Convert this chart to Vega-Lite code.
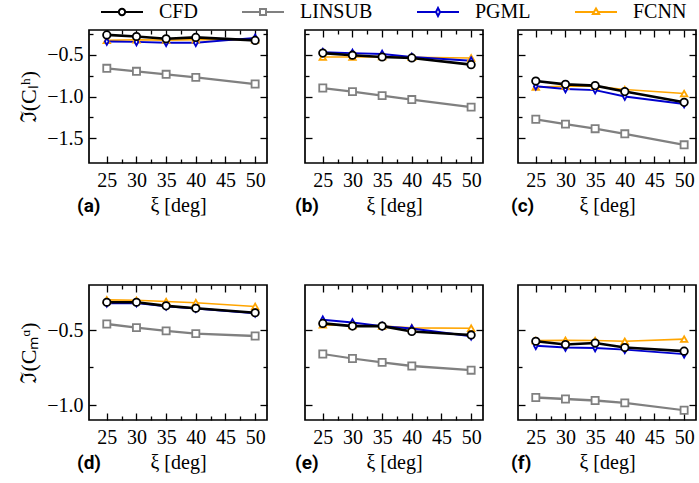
{
  "$schema": "https://vega.github.io/schema/vega-lite/v6.json",
  "padding": {"left": 16, "top": 0, "right": 0, "bottom": 0},
  "data": {"values": [
    {"p":"a","s":"LINSUB","x":25,"y":-0.661},{"p":"a","s":"LINSUB","x":30,"y":-0.697},{"p":"a","s":"LINSUB","x":35,"y":-0.733},{"p":"a","s":"LINSUB","x":40,"y":-0.770},{"p":"a","s":"LINSUB","x":50,"y":-0.850},
    {"p":"a","s":"FCNN","x":25,"y":-0.325},{"p":"a","s":"FCNN","x":30,"y":-0.318},{"p":"a","s":"FCNN","x":35,"y":-0.322},{"p":"a","s":"FCNN","x":40,"y":-0.318},{"p":"a","s":"FCNN","x":50,"y":-0.318},
    {"p":"a","s":"PGML","x":25,"y":-0.339},{"p":"a","s":"PGML","x":30,"y":-0.343},{"p":"a","s":"PGML","x":35,"y":-0.354},{"p":"a","s":"PGML","x":40,"y":-0.354},{"p":"a","s":"PGML","x":50,"y":-0.295},
    {"p":"a","s":"CFD","x":25,"y":-0.259},{"p":"a","s":"CFD","x":30,"y":-0.278},{"p":"a","s":"CFD","x":35,"y":-0.306},{"p":"a","s":"CFD","x":40,"y":-0.289},{"p":"a","s":"CFD","x":50,"y":-0.325},
    {"p":"b","s":"LINSUB","x":25,"y":-0.898},{"p":"b","s":"LINSUB","x":30,"y":-0.941},{"p":"b","s":"LINSUB","x":35,"y":-0.989},{"p":"b","s":"LINSUB","x":40,"y":-1.037},{"p":"b","s":"LINSUB","x":50,"y":-1.128},
    {"p":"b","s":"FCNN","x":25,"y":-0.525},{"p":"b","s":"FCNN","x":30,"y":-0.525},{"p":"b","s":"FCNN","x":35,"y":-0.520},{"p":"b","s":"FCNN","x":40,"y":-0.527},{"p":"b","s":"FCNN","x":50,"y":-0.536},
    {"p":"b","s":"PGML","x":25,"y":-0.467},{"p":"b","s":"PGML","x":30,"y":-0.478},{"p":"b","s":"PGML","x":35,"y":-0.489},{"p":"b","s":"PGML","x":40,"y":-0.525},{"p":"b","s":"PGML","x":50,"y":-0.569},
    {"p":"b","s":"CFD","x":25,"y":-0.478},{"p":"b","s":"CFD","x":30,"y":-0.503},{"p":"b","s":"CFD","x":35,"y":-0.525},{"p":"b","s":"CFD","x":40,"y":-0.536},{"p":"b","s":"CFD","x":50,"y":-0.617},
    {"p":"c","s":"LINSUB","x":25,"y":-1.274},{"p":"c","s":"LINSUB","x":30,"y":-1.332},{"p":"c","s":"LINSUB","x":35,"y":-1.387},{"p":"c","s":"LINSUB","x":40,"y":-1.449},{"p":"c","s":"LINSUB","x":50,"y":-1.581},
    {"p":"c","s":"FCNN","x":25,"y":-0.887},{"p":"c","s":"FCNN","x":30,"y":-0.876},{"p":"c","s":"FCNN","x":35,"y":-0.876},{"p":"c","s":"FCNN","x":40,"y":-0.916},{"p":"c","s":"FCNN","x":50,"y":-0.964},
    {"p":"c","s":"PGML","x":25,"y":-0.876},{"p":"c","s":"PGML","x":30,"y":-0.909},{"p":"c","s":"PGML","x":35,"y":-0.923},{"p":"c","s":"PGML","x":40,"y":-1.000},{"p":"c","s":"PGML","x":50,"y":-1.091},
    {"p":"c","s":"CFD","x":25,"y":-0.814},{"p":"c","s":"CFD","x":30,"y":-0.854},{"p":"c","s":"CFD","x":35,"y":-0.869},{"p":"c","s":"CFD","x":40,"y":-0.941},{"p":"c","s":"CFD","x":50,"y":-1.070},
    {"p":"d","s":"LINSUB","x":25,"y":-0.460},{"p":"d","s":"LINSUB","x":30,"y":-0.484},{"p":"d","s":"LINSUB","x":35,"y":-0.506},{"p":"d","s":"LINSUB","x":40,"y":-0.524},{"p":"d","s":"LINSUB","x":50,"y":-0.540},
    {"p":"d","s":"FCNN","x":25,"y":-0.299},{"p":"d","s":"FCNN","x":30,"y":-0.302},{"p":"d","s":"FCNN","x":35,"y":-0.310},{"p":"d","s":"FCNN","x":40,"y":-0.318},{"p":"d","s":"FCNN","x":50,"y":-0.343},
    {"p":"d","s":"PGML","x":25,"y":-0.322},{"p":"d","s":"PGML","x":30,"y":-0.320},{"p":"d","s":"PGML","x":35,"y":-0.342},{"p":"d","s":"PGML","x":40,"y":-0.357},{"p":"d","s":"PGML","x":50,"y":-0.388},
    {"p":"d","s":"CFD","x":25,"y":-0.315},{"p":"d","s":"CFD","x":30,"y":-0.315},{"p":"d","s":"CFD","x":35,"y":-0.339},{"p":"d","s":"CFD","x":40,"y":-0.355},{"p":"d","s":"CFD","x":50,"y":-0.385},
    {"p":"e","s":"LINSUB","x":25,"y":-0.660},{"p":"e","s":"LINSUB","x":30,"y":-0.690},{"p":"e","s":"LINSUB","x":35,"y":-0.716},{"p":"e","s":"LINSUB","x":40,"y":-0.740},{"p":"e","s":"LINSUB","x":50,"y":-0.768},
    {"p":"e","s":"FCNN","x":25,"y":-0.466},{"p":"e","s":"FCNN","x":30,"y":-0.470},{"p":"e","s":"FCNN","x":35,"y":-0.474},{"p":"e","s":"FCNN","x":40,"y":-0.486},{"p":"e","s":"FCNN","x":50,"y":-0.488},
    {"p":"e","s":"PGML","x":25,"y":-0.432},{"p":"e","s":"PGML","x":30,"y":-0.450},{"p":"e","s":"PGML","x":35,"y":-0.474},{"p":"e","s":"PGML","x":40,"y":-0.490},{"p":"e","s":"PGML","x":50,"y":-0.542},
    {"p":"e","s":"CFD","x":25,"y":-0.456},{"p":"e","s":"CFD","x":30,"y":-0.474},{"p":"e","s":"CFD","x":35,"y":-0.474},{"p":"e","s":"CFD","x":40,"y":-0.510},{"p":"e","s":"CFD","x":50,"y":-0.533},
    {"p":"f","s":"LINSUB","x":25,"y":-0.950},{"p":"f","s":"LINSUB","x":30,"y":-0.960},{"p":"f","s":"LINSUB","x":35,"y":-0.970},{"p":"f","s":"LINSUB","x":40,"y":-0.986},{"p":"f","s":"LINSUB","x":50,"y":-1.035},
    {"p":"f","s":"FCNN","x":25,"y":-0.571},{"p":"f","s":"FCNN","x":30,"y":-0.569},{"p":"f","s":"FCNN","x":35,"y":-0.570},{"p":"f","s":"FCNN","x":40,"y":-0.575},{"p":"f","s":"FCNN","x":50,"y":-0.561},
    {"p":"f","s":"PGML","x":25,"y":-0.605},{"p":"f","s":"PGML","x":30,"y":-0.617},{"p":"f","s":"PGML","x":35,"y":-0.620},{"p":"f","s":"PGML","x":40,"y":-0.631},{"p":"f","s":"PGML","x":50,"y":-0.661},
    {"p":"f","s":"CFD","x":25,"y":-0.575},{"p":"f","s":"CFD","x":30,"y":-0.597},{"p":"f","s":"CFD","x":35,"y":-0.587},{"p":"f","s":"CFD","x":40,"y":-0.617},{"p":"f","s":"CFD","x":50,"y":-0.641}
  ]},
  "spacing": 14,
  "vconcat": [
    {"width": 10, "height": 1, "view": {"stroke": null},
     "transform": [{"filter": "datum.p === 'a' && datum.x === 25"}],
     "mark": {"type": "point", "filled": false, "fill": "white", "opacity": 0, "size": 196, "strokeWidth": 2},
     "encoding": {
      "color": {"field": "s", "type": "nominal", "scale": {"domain": ["CFD","LINSUB","PGML","FCNN"], "range": ["#000000","#808080","#0000CD","#FFA500"]},
        "legend": {"orient": "none", "legendX": 23, "legendY": -2, "direction": "horizontal", "columns": 4, "title": null, "symbolSize": 196, "symbolOpacity": 1, "symbolStrokeWidth": 2, "symbolFillColor": "white", "labelOffset": 27, "columnPadding": 40, "labelFont": "Liberation Serif", "labelFontSize": 20, "labelFontWeight": "normal", "labelColor": "black",
          "encode": {"labels": {"update": {"font": {"value": "Liberation Serif"}, "fontSize": {"value": 20}, "fontWeight": {"value": "normal"}}}}}},
      "shape": {"field": "s", "type": "nominal", "scale": {"domain": ["CFD","LINSUB","PGML","FCNN"], "range": [
          "M-3,0L-0.45,0M0.45,0L3,0M0.45,0A0.45,0.45,0,1,1,-0.45,0A0.45,0.45,0,1,1,0.45,0",
          "M-3,0L-0.43,0M0.43,0L3,0M-0.43,-0.43L0.43,-0.43L0.43,0.43L-0.43,0.43Z",
          "M-3,0L-0.29,0M0.29,0L3,0M0,-0.57L0.29,0L0,0.57L-0.29,0Z",
          "M-3,0L-0.28,0M0.28,0L3,0M0,-0.5L0.45,0.3L-0.45,0.3Z"]},
        "legend": {"orient": "none", "legendX": 23, "legendY": -2, "direction": "horizontal", "columns": 4, "title": null, "symbolSize": 196, "symbolOpacity": 1, "symbolStrokeWidth": 2, "symbolFillColor": "white", "labelOffset": 27, "columnPadding": 40, "labelFont": "Liberation Serif", "labelFontSize": 20, "labelFontWeight": "normal", "labelColor": "black",
          "encode": {"labels": {"update": {"font": {"value": "Liberation Serif"}, "fontSize": {"value": 20}, "fontWeight": {"value": "normal"}}}}}}
     }},
    {"spacing": 66,
     "resolve": {"scale": {"shape": "independent", "size": "independent", "strokeWidth": "independent"}},
     "vconcat": [
    {"hconcat": [
      {"width": 178, "height": 133, "transform": [{"filter": "datum.p === 'a'"}],
       "title": {"text": "(a)", "orient": "bottom", "anchor": "start", "frame": "group", "offset": -18, "dx": -12},
       "layer": [
        {"mark": {"type": "line"},
         "encoding": {
          "x": {"field": "x", "type": "quantitative", "scale": {"domain": [23.75, 51.25]}, "axis": {"orient": "bottom", "values": [25,27.5,30,32.5,35,37.5,40,42.5,45,47.5,50], "format": ".0f", "labelExpr": "datum.value % 5 === 0 ? datum.label : ''", "labelOverlap": false, "tickSize": {"condition": {"test": "datum.value % 5 !== 0", "value": -4}, "value": -7}, "labelPadding": 14, "title": "ξ [deg]", "titlePadding": 2}},
          "y": {"field": "y", "type": "quantitative", "scale": {"domain": [-1.65, -0.2]}, "axis": {"orient": "left", "values": [-1.5,-1.25,-1,-0.75,-0.5,-0.25], "format": ".1f", "labelExpr": "abs(datum.value*2-round(datum.value*2)) < 0.01 ? datum.label : ''", "labelOverlap": false, "tickSize": {"condition": {"test": "abs(datum.value*2-round(datum.value*2)) > 0.01", "value": -4}, "value": -7}, "labelPadding": 13, "title": "ℑ(Cₗʰ)", "titleFontSize": 22, "titlePadding": 6}},
          "color": {"field": "s", "type": "nominal", "scale": {"domain": ["CFD","LINSUB","PGML","FCNN"], "range": ["#000000","#808080","#0000CD","#FFA500"]}},
          "strokeWidth": {"field": "s", "type": "nominal", "scale": {"domain": ["CFD","LINSUB","PGML","FCNN"], "range": [2.6,1.6,2.2,2.2]}, "legend": null}
         }},
        {"mark": {"type": "point", "filled": false, "fill": "white", "opacity": 1, "strokeWidth": 1.8},
         "encoding": {
          "x": {"field": "x", "type": "quantitative", "axis": {"orient": "top", "values": [25,27.5,30,32.5,35,37.5,40,42.5,45,47.5,50], "labels": false, "title": null, "tickSize": {"condition": {"test": "datum.value % 5 !== 0", "value": -4}, "value": -7}}},
          "y": {"field": "y", "type": "quantitative", "axis": {"orient": "right", "values": [-1.5,-1.25,-1,-0.75,-0.5,-0.25], "labels": false, "title": null, "tickSize": {"condition": {"test": "abs(datum.value*2-round(datum.value*2)) > 0.01", "value": -4}, "value": -7}}},
          "color": {"field": "s", "type": "nominal", "scale": {"domain": ["CFD","LINSUB","PGML","FCNN"], "range": ["#000000","#808080","#0000CD","#FFA500"]}},
          "shape": {"field": "s", "type": "nominal", "scale": {"domain": ["CFD","LINSUB","PGML","FCNN"], "range": ["circle","square","M0,-1L0.55,0L0,1L-0.55,0Z","triangle-up"]}, "legend": null},
          "size": {"field": "s", "type": "nominal", "scale": {"domain": ["CFD","LINSUB","PGML","FCNN"], "range": [55,42,80,50]}, "legend": null}
         }}
       ],
       "resolve": {"axis": {"x": "independent", "y": "independent"}}},
      {"width": 178, "height": 133, "transform": [{"filter": "datum.p === 'b'"}],
       "title": {"text": "(b)", "orient": "bottom", "anchor": "start", "frame": "group", "offset": -18, "dx": -10},
       "layer": [
        {"mark": {"type": "line"},
         "encoding": {
          "x": {"field": "x", "type": "quantitative", "scale": {"domain": [23.75, 51.25]}, "axis": {"orient": "bottom", "values": [25,27.5,30,32.5,35,37.5,40,42.5,45,47.5,50], "format": ".0f", "labelExpr": "datum.value % 5 === 0 ? datum.label : ''", "labelOverlap": false, "tickSize": {"condition": {"test": "datum.value % 5 !== 0", "value": -4}, "value": -7}, "labelPadding": 14, "title": "ξ [deg]", "titlePadding": 2}},
          "y": {"field": "y", "type": "quantitative", "scale": {"domain": [-1.65, -0.2]}, "axis": {"orient": "left", "values": [-1.5,-1.25,-1,-0.75,-0.5,-0.25], "labels": false, "title": null, "tickSize": {"condition": {"test": "abs(datum.value*2-round(datum.value*2)) > 0.01", "value": -4}, "value": -7}}},
          "color": {"field": "s", "type": "nominal", "scale": {"domain": ["CFD","LINSUB","PGML","FCNN"], "range": ["#000000","#808080","#0000CD","#FFA500"]}},
          "strokeWidth": {"field": "s", "type": "nominal", "scale": {"domain": ["CFD","LINSUB","PGML","FCNN"], "range": [2.6,1.6,2.2,2.2]}, "legend": null}
         }},
        {"mark": {"type": "point", "filled": false, "fill": "white", "opacity": 1, "strokeWidth": 1.8},
         "encoding": {
          "x": {"field": "x", "type": "quantitative", "axis": {"orient": "top", "values": [25,27.5,30,32.5,35,37.5,40,42.5,45,47.5,50], "labels": false, "title": null, "tickSize": {"condition": {"test": "datum.value % 5 !== 0", "value": -4}, "value": -7}}},
          "y": {"field": "y", "type": "quantitative", "axis": {"orient": "right", "values": [-1.5,-1.25,-1,-0.75,-0.5,-0.25], "labels": false, "title": null, "tickSize": {"condition": {"test": "abs(datum.value*2-round(datum.value*2)) > 0.01", "value": -4}, "value": -7}}},
          "color": {"field": "s", "type": "nominal", "scale": {"domain": ["CFD","LINSUB","PGML","FCNN"], "range": ["#000000","#808080","#0000CD","#FFA500"]}},
          "shape": {"field": "s", "type": "nominal", "scale": {"domain": ["CFD","LINSUB","PGML","FCNN"], "range": ["circle","square","M0,-1L0.55,0L0,1L-0.55,0Z","triangle-up"]}, "legend": null},
          "size": {"field": "s", "type": "nominal", "scale": {"domain": ["CFD","LINSUB","PGML","FCNN"], "range": [55,42,80,50]}, "legend": null}
         }}
       ],
       "resolve": {"axis": {"x": "independent", "y": "independent"}}},
      {"width": 178, "height": 133, "transform": [{"filter": "datum.p === 'c'"}],
       "title": {"text": "(c)", "orient": "bottom", "anchor": "start", "frame": "group", "offset": -18, "dx": -7},
       "layer": [
        {"mark": {"type": "line"},
         "encoding": {
          "x": {"field": "x", "type": "quantitative", "scale": {"domain": [23.75, 51.25]}, "axis": {"orient": "bottom", "values": [25,27.5,30,32.5,35,37.5,40,42.5,45,47.5,50], "format": ".0f", "labelExpr": "datum.value % 5 === 0 ? datum.label : ''", "labelOverlap": false, "tickSize": {"condition": {"test": "datum.value % 5 !== 0", "value": -4}, "value": -7}, "labelPadding": 14, "title": "ξ [deg]", "titlePadding": 2}},
          "y": {"field": "y", "type": "quantitative", "scale": {"domain": [-1.65, -0.2]}, "axis": {"orient": "left", "values": [-1.5,-1.25,-1,-0.75,-0.5,-0.25], "labels": false, "title": null, "tickSize": {"condition": {"test": "abs(datum.value*2-round(datum.value*2)) > 0.01", "value": -4}, "value": -7}}},
          "color": {"field": "s", "type": "nominal", "scale": {"domain": ["CFD","LINSUB","PGML","FCNN"], "range": ["#000000","#808080","#0000CD","#FFA500"]}},
          "strokeWidth": {"field": "s", "type": "nominal", "scale": {"domain": ["CFD","LINSUB","PGML","FCNN"], "range": [2.6,1.6,2.2,2.2]}, "legend": null}
         }},
        {"mark": {"type": "point", "filled": false, "fill": "white", "opacity": 1, "strokeWidth": 1.8},
         "encoding": {
          "x": {"field": "x", "type": "quantitative", "axis": {"orient": "top", "values": [25,27.5,30,32.5,35,37.5,40,42.5,45,47.5,50], "labels": false, "title": null, "tickSize": {"condition": {"test": "datum.value % 5 !== 0", "value": -4}, "value": -7}}},
          "y": {"field": "y", "type": "quantitative", "axis": {"orient": "right", "values": [-1.5,-1.25,-1,-0.75,-0.5,-0.25], "labels": false, "title": null, "tickSize": {"condition": {"test": "abs(datum.value*2-round(datum.value*2)) > 0.01", "value": -4}, "value": -7}}},
          "color": {"field": "s", "type": "nominal", "scale": {"domain": ["CFD","LINSUB","PGML","FCNN"], "range": ["#000000","#808080","#0000CD","#FFA500"]}},
          "shape": {"field": "s", "type": "nominal", "scale": {"domain": ["CFD","LINSUB","PGML","FCNN"], "range": ["circle","square","M0,-1L0.55,0L0,1L-0.55,0Z","triangle-up"]}, "legend": null},
          "size": {"field": "s", "type": "nominal", "scale": {"domain": ["CFD","LINSUB","PGML","FCNN"], "range": [55,42,80,50]}, "legend": null}
         }}
       ],
       "resolve": {"axis": {"x": "independent", "y": "independent"}}}
    ], "spacing": 25},
    {"hconcat": [
      {"width": 178, "height": 135, "transform": [{"filter": "datum.p === 'd'"}],
       "title": {"text": "(d)", "orient": "bottom", "anchor": "start", "frame": "group", "offset": -18, "dx": -12},
       "layer": [
        {"mark": {"type": "line"},
         "encoding": {
          "x": {"field": "x", "type": "quantitative", "scale": {"domain": [23.75, 51.25]}, "axis": {"orient": "bottom", "values": [25,27.5,30,32.5,35,37.5,40,42.5,45,47.5,50], "format": ".0f", "labelExpr": "datum.value % 5 === 0 ? datum.label : ''", "labelOverlap": false, "tickSize": {"condition": {"test": "datum.value % 5 !== 0", "value": -4}, "value": -7}, "labelPadding": 14, "title": "ξ [deg]", "titlePadding": 2}},
          "y": {"field": "y", "type": "quantitative", "scale": {"domain": [-1.078, -0.262]}, "axis": {"orient": "left", "values": [-1,-0.75,-0.5], "format": ".1f", "labelExpr": "abs(datum.value*2-round(datum.value*2)) < 0.01 ? datum.label : ''", "labelOverlap": false, "tickSize": {"condition": {"test": "abs(datum.value*2-round(datum.value*2)) > 0.01", "value": -4}, "value": -7}, "labelPadding": 13, "title": "ℑ(Cₘᵅ)", "titleFontSize": 22, "titlePadding": 6}},
          "color": {"field": "s", "type": "nominal", "scale": {"domain": ["CFD","LINSUB","PGML","FCNN"], "range": ["#000000","#808080","#0000CD","#FFA500"]}},
          "strokeWidth": {"field": "s", "type": "nominal", "scale": {"domain": ["CFD","LINSUB","PGML","FCNN"], "range": [2.6,1.6,2.2,2.2]}, "legend": null}
         }},
        {"mark": {"type": "point", "filled": false, "fill": "white", "opacity": 1, "strokeWidth": 1.8},
         "encoding": {
          "x": {"field": "x", "type": "quantitative", "axis": {"orient": "top", "values": [25,27.5,30,32.5,35,37.5,40,42.5,45,47.5,50], "labels": false, "title": null, "tickSize": {"condition": {"test": "datum.value % 5 !== 0", "value": -4}, "value": -7}}},
          "y": {"field": "y", "type": "quantitative", "axis": {"orient": "right", "values": [-1,-0.75,-0.5], "labels": false, "title": null, "tickSize": {"condition": {"test": "abs(datum.value*2-round(datum.value*2)) > 0.01", "value": -4}, "value": -7}}},
          "color": {"field": "s", "type": "nominal", "scale": {"domain": ["CFD","LINSUB","PGML","FCNN"], "range": ["#000000","#808080","#0000CD","#FFA500"]}},
          "shape": {"field": "s", "type": "nominal", "scale": {"domain": ["CFD","LINSUB","PGML","FCNN"], "range": ["circle","square","M0,-1L0.55,0L0,1L-0.55,0Z","triangle-up"]}, "legend": null},
          "size": {"field": "s", "type": "nominal", "scale": {"domain": ["CFD","LINSUB","PGML","FCNN"], "range": [55,42,80,50]}, "legend": null}
         }}
       ],
       "resolve": {"axis": {"x": "independent", "y": "independent"}}},
      {"width": 178, "height": 135, "transform": [{"filter": "datum.p === 'e'"}],
       "title": {"text": "(e)", "orient": "bottom", "anchor": "start", "frame": "group", "offset": -18, "dx": -10},
       "layer": [
        {"mark": {"type": "line"},
         "encoding": {
          "x": {"field": "x", "type": "quantitative", "scale": {"domain": [23.75, 51.25]}, "axis": {"orient": "bottom", "values": [25,27.5,30,32.5,35,37.5,40,42.5,45,47.5,50], "format": ".0f", "labelExpr": "datum.value % 5 === 0 ? datum.label : ''", "labelOverlap": false, "tickSize": {"condition": {"test": "datum.value % 5 !== 0", "value": -4}, "value": -7}, "labelPadding": 14, "title": "ξ [deg]", "titlePadding": 2}},
          "y": {"field": "y", "type": "quantitative", "scale": {"domain": [-1.078, -0.262]}, "axis": {"orient": "left", "values": [-1,-0.75,-0.5], "labels": false, "title": null, "tickSize": {"condition": {"test": "abs(datum.value*2-round(datum.value*2)) > 0.01", "value": -4}, "value": -7}}},
          "color": {"field": "s", "type": "nominal", "scale": {"domain": ["CFD","LINSUB","PGML","FCNN"], "range": ["#000000","#808080","#0000CD","#FFA500"]}},
          "strokeWidth": {"field": "s", "type": "nominal", "scale": {"domain": ["CFD","LINSUB","PGML","FCNN"], "range": [2.6,1.6,2.2,2.2]}, "legend": null}
         }},
        {"mark": {"type": "point", "filled": false, "fill": "white", "opacity": 1, "strokeWidth": 1.8},
         "encoding": {
          "x": {"field": "x", "type": "quantitative", "axis": {"orient": "top", "values": [25,27.5,30,32.5,35,37.5,40,42.5,45,47.5,50], "labels": false, "title": null, "tickSize": {"condition": {"test": "datum.value % 5 !== 0", "value": -4}, "value": -7}}},
          "y": {"field": "y", "type": "quantitative", "axis": {"orient": "right", "values": [-1,-0.75,-0.5], "labels": false, "title": null, "tickSize": {"condition": {"test": "abs(datum.value*2-round(datum.value*2)) > 0.01", "value": -4}, "value": -7}}},
          "color": {"field": "s", "type": "nominal", "scale": {"domain": ["CFD","LINSUB","PGML","FCNN"], "range": ["#000000","#808080","#0000CD","#FFA500"]}},
          "shape": {"field": "s", "type": "nominal", "scale": {"domain": ["CFD","LINSUB","PGML","FCNN"], "range": ["circle","square","M0,-1L0.55,0L0,1L-0.55,0Z","triangle-up"]}, "legend": null},
          "size": {"field": "s", "type": "nominal", "scale": {"domain": ["CFD","LINSUB","PGML","FCNN"], "range": [55,42,80,50]}, "legend": null}
         }}
       ],
       "resolve": {"axis": {"x": "independent", "y": "independent"}}},
      {"width": 178, "height": 135, "transform": [{"filter": "datum.p === 'f'"}],
       "title": {"text": "(f)", "orient": "bottom", "anchor": "start", "frame": "group", "offset": -18, "dx": -7},
       "layer": [
        {"mark": {"type": "line"},
         "encoding": {
          "x": {"field": "x", "type": "quantitative", "scale": {"domain": [23.75, 51.25]}, "axis": {"orient": "bottom", "values": [25,27.5,30,32.5,35,37.5,40,42.5,45,47.5,50], "format": ".0f", "labelExpr": "datum.value % 5 === 0 ? datum.label : ''", "labelOverlap": false, "tickSize": {"condition": {"test": "datum.value % 5 !== 0", "value": -4}, "value": -7}, "labelPadding": 14, "title": "ξ [deg]", "titlePadding": 2}},
          "y": {"field": "y", "type": "quantitative", "scale": {"domain": [-1.078, -0.262]}, "axis": {"orient": "left", "values": [-1,-0.75,-0.5], "labels": false, "title": null, "tickSize": {"condition": {"test": "abs(datum.value*2-round(datum.value*2)) > 0.01", "value": -4}, "value": -7}}},
          "color": {"field": "s", "type": "nominal", "scale": {"domain": ["CFD","LINSUB","PGML","FCNN"], "range": ["#000000","#808080","#0000CD","#FFA500"]}},
          "strokeWidth": {"field": "s", "type": "nominal", "scale": {"domain": ["CFD","LINSUB","PGML","FCNN"], "range": [2.6,1.6,2.2,2.2]}, "legend": null}
         }},
        {"mark": {"type": "point", "filled": false, "fill": "white", "opacity": 1, "strokeWidth": 1.8},
         "encoding": {
          "x": {"field": "x", "type": "quantitative", "axis": {"orient": "top", "values": [25,27.5,30,32.5,35,37.5,40,42.5,45,47.5,50], "labels": false, "title": null, "tickSize": {"condition": {"test": "datum.value % 5 !== 0", "value": -4}, "value": -7}}},
          "y": {"field": "y", "type": "quantitative", "axis": {"orient": "right", "values": [-1,-0.75,-0.5], "labels": false, "title": null, "tickSize": {"condition": {"test": "abs(datum.value*2-round(datum.value*2)) > 0.01", "value": -4}, "value": -7}}},
          "color": {"field": "s", "type": "nominal", "scale": {"domain": ["CFD","LINSUB","PGML","FCNN"], "range": ["#000000","#808080","#0000CD","#FFA500"]}},
          "shape": {"field": "s", "type": "nominal", "scale": {"domain": ["CFD","LINSUB","PGML","FCNN"], "range": ["circle","square","M0,-1L0.55,0L0,1L-0.55,0Z","triangle-up"]}, "legend": null},
          "size": {"field": "s", "type": "nominal", "scale": {"domain": ["CFD","LINSUB","PGML","FCNN"], "range": [55,42,80,50]}, "legend": null}
         }}
       ],
       "resolve": {"axis": {"x": "independent", "y": "independent"}}}
    ], "spacing": 25}
    ]}
  ],
  "config": {
    "view": {"stroke": "black", "strokeWidth": 1.7},
    "axis": {"domain": false, "grid": false, "tickColor": "black", "tickWidth": 1.3, "labelFont": "Liberation Serif", "labelFontSize": 20, "labelColor": "black", "titleFont": "Liberation Serif", "titleFontSize": 20, "titleFontWeight": "normal", "titleColor": "black"},
    "legend": {"labelFont": "Liberation Serif", "labelFontSize": 20, "labelColor": "black", "symbolStrokeWidth": 2, "symbolOpacity": 1},
    "title": {"font": "Roboto", "fontWeight": "bold", "fontSize": 19, "color": "black"}
  }
}
